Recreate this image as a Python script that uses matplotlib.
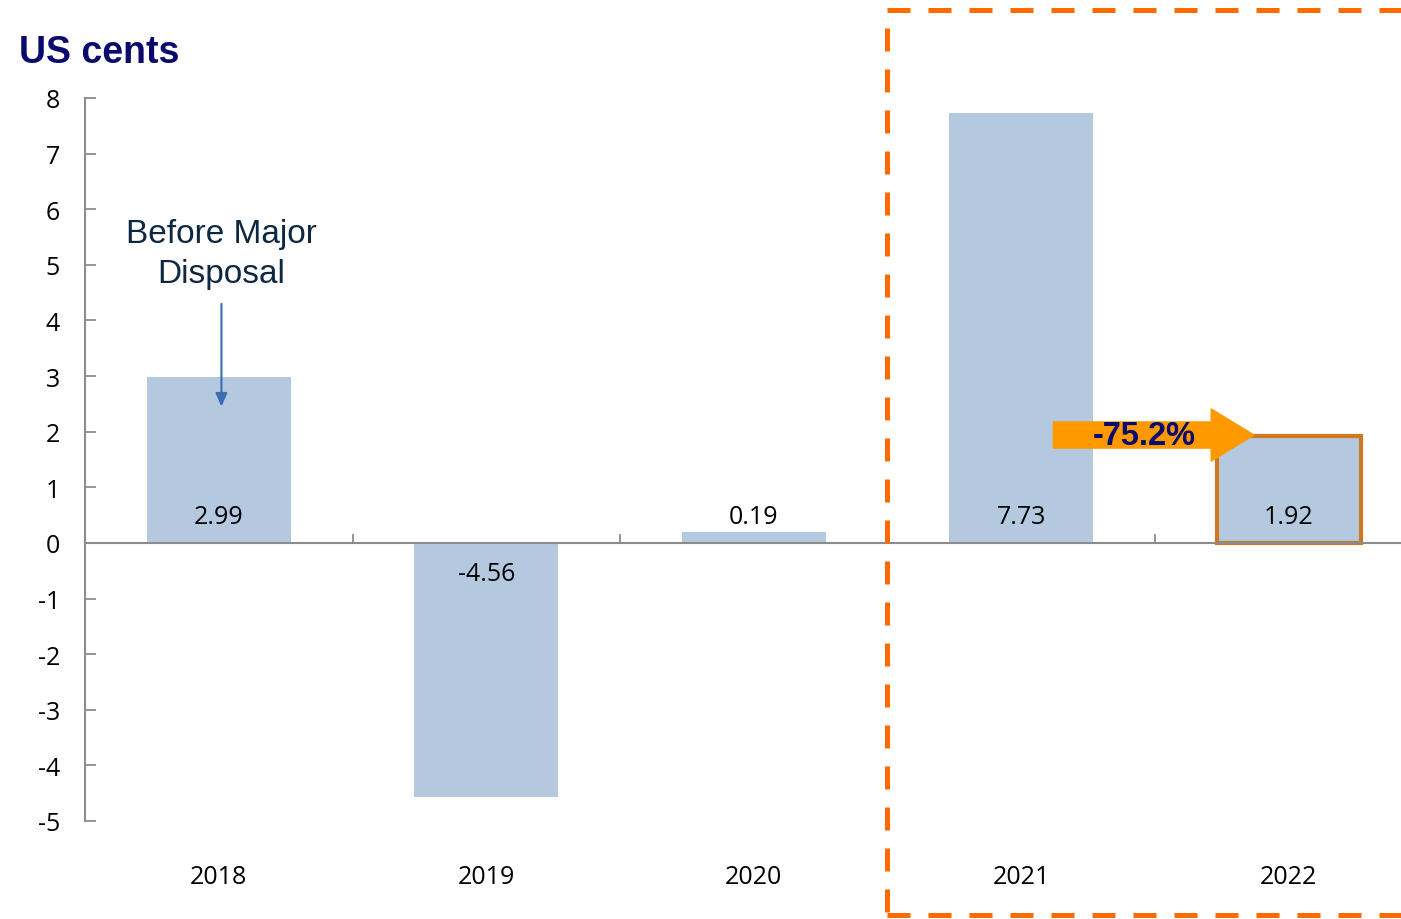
import matplotlib.pyplot as plt
import matplotlib.patches as mpatches
import numpy as np

# data
years = ['2018', '2019', '2020', '2021', '2022']
values = [2.99, -4.56, 0.19, 7.73, 1.92]
labels = ['2.99', '-4.56', '0.19', '7.73', '1.92']
change_text = '-75.2%'

bar_color = '#B4C9E0'
navy = '#0A0A6E'
orange = '#FF9900'
box_orange = '#D07820'
dash_orange = '#FF6A00'

W, H = 1401, 920
fig = plt.figure(figsize=(W / 100, H / 100), dpi=100)

# axes placement in pixels
left, right, top, bottom = 85, 1401, 99, 822
ax = fig.add_axes([left / W, 1 - bottom / H, (right - left) / W, (bottom - top) / H])

step = 267.5
x = np.arange(len(years))
bars = ax.bar(x, values, width=0.54, color=bar_color, zorder=2)
# highlight latest year
bars[-1].set_edgecolor(box_orange)
bars[-1].set_linewidth(3)

ax.set_xlim(-0.5, -0.5 + (right - left) / step)
ax.set_ylim(-5, 8)
ax.set_yticks(range(-5, 9))

font = 'Open Sans'
ax.set_yticklabels([str(v) for v in range(-5, 9)], fontsize=18, family=font)
ax.tick_params(axis='y', direction='in', length=8, width=1.3, color='#8C8C8C', pad=18)

for s in ['top', 'right', 'bottom']:
    ax.spines[s].set_visible(False)
ax.spines['left'].set_color('#8C8C8C')
ax.spines['left'].set_linewidth(1.5)
ax.axhline(0, color='#8C8C8C', lw=1.5, zorder=3)

# category boundary ticks on the zero line
ax.set_xticks([])
for b in x[:-1] + 0.5:
    ax.plot([b, b], [0, 0.15], color='#8C8C8C', lw=1.3, zorder=3)

# category labels below plot
for xi, yr in zip(x, years):
    ax.text(xi, -5.99, yr, ha='center', va='center', fontsize=18, family=font)

# data labels
for xi, v, lab in zip(x, values, labels):
    yy = 0.48 if v > 0 else -0.55
    ax.text(xi, yy, lab, ha='center', va='center', fontsize=18, family=font, zorder=4)

# title
fig.text(19 / W, 1 - 53 / H, 'US cents', fontsize=27, fontweight='bold',
         color=navy, family='Liberation Sans', ha='left', va='center')

# annotation for 2018
ax.text(0.01, 5.2, 'Before Major\nDisposal', ha='center', va='center', fontsize=24,
        family='Liberation Sans', color='#0E2841', linespacing=1.38)
ax.annotate('', xy=(0.01, 2.4), xytext=(0.01, 4.35),
            arrowprops=dict(arrowstyle='-|>,head_width=0.35,head_length=0.8',
                            color='#3A6EB0', lw=1.5))

# orange block arrow showing the change
x0, xh, x1 = 3.12, 3.71, 3.87
yc, bh, hh = 1.94, 0.235, 0.47
arrow = mpatches.Polygon([(x0, yc - bh), (xh, yc - bh), (xh, yc - hh), (x1, yc),
                          (xh, yc + hh), (xh, yc + bh), (x0, yc + bh)],
                         closed=True, color=orange, zorder=5)
ax.add_patch(arrow)
ax.text(3.46, yc, change_text, ha='center', va='center', fontsize=23.5,
        fontweight='bold', color=navy, family='Liberation Sans', zorder=6)

# dashed box around the later years
rect = mpatches.Rectangle((887 / W, 1 - 916 / H), (1450 - 887) / W, (916 - 11) / H,
                          transform=fig.transFigure, fill=False, edgecolor=dash_orange,
                          lw=3.6, linestyle=(0, (4.6, 3.6)), clip_on=False)
fig.patches.append(rect)

fig.savefig('out.png', dpi=100)
